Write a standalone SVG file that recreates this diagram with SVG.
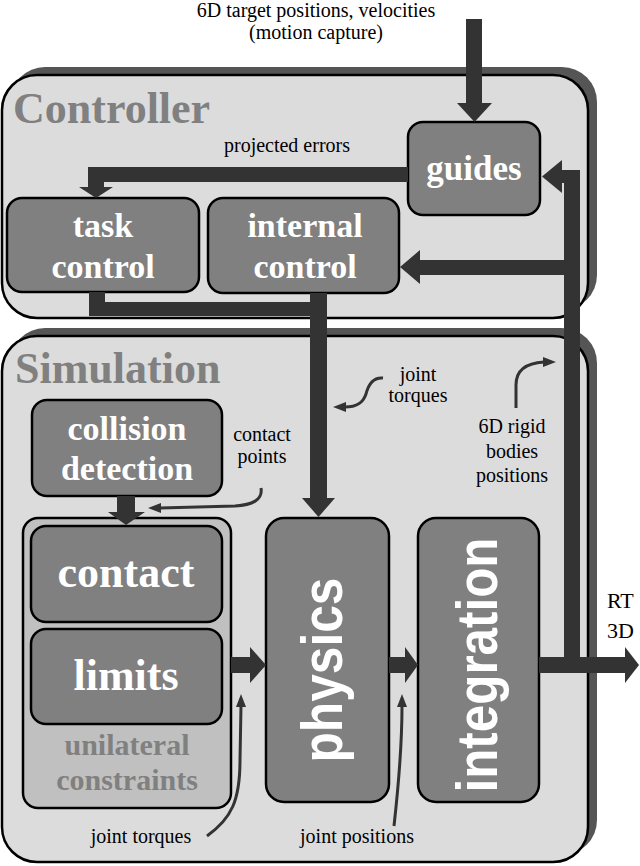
<svg xmlns="http://www.w3.org/2000/svg" width="640" height="866" viewBox="0 0 640 866">
<rect width="640" height="866" fill="#fff"/>

<g id="controller">
<rect fill="#555" x="10" y="67" width="587" height="243" rx="35"/>
<rect fill="#dcdcdc" stroke="#000" stroke-width="2.5" x="2" y="75" width="586" height="243" rx="35"/>
<text x="13" y="123" font-family="Liberation Serif" font-weight="bold" font-size="44" fill="#808080">Controller</text>
</g>

<g id="simulation">
<rect fill="#555" x="10" y="328" width="587" height="527" rx="35"/>
<rect fill="#dcdcdc" stroke="#000" stroke-width="2.5" x="2" y="336" width="586" height="526" rx="35"/>
<text x="15" y="383" font-family="Liberation Serif" font-weight="bold" font-size="44" fill="#808080">Simulation</text>
</g>

<g id="guides">
<rect fill="#808080" stroke="#000" stroke-width="2.5" x="408" y="122" width="132" height="93" rx="15"/>
<text x="474" y="180" font-family="Liberation Serif" font-weight="bold" font-size="35" fill="#fff" text-anchor="middle">guides</text>
</g>

<g id="task-control">
<rect fill="#808080" stroke="#000" stroke-width="2.5" x="7" y="198" width="192" height="94" rx="15"/>
<text x="103" y="237" font-family="Liberation Serif" font-weight="bold" font-size="34" fill="#fff" text-anchor="middle">task</text>
<text x="103" y="278" font-family="Liberation Serif" font-weight="bold" font-size="34" fill="#fff" text-anchor="middle">control</text>
</g>

<g id="internal-control">
<rect fill="#808080" stroke="#000" stroke-width="2.5" x="208" y="198" width="191" height="95" rx="15"/>
<text x="305" y="237" font-family="Liberation Serif" font-weight="bold" font-size="34" fill="#fff" text-anchor="middle">internal</text>
<text x="305" y="278" font-family="Liberation Serif" font-weight="bold" font-size="34" fill="#fff" text-anchor="middle">control</text>
</g>

<g id="collision-detection">
<rect fill="#808080" stroke="#000" stroke-width="2.5" x="32" y="400" width="190" height="96" rx="15"/>
<text x="127" y="440" font-family="Liberation Serif" font-weight="bold" font-size="34" fill="#fff" text-anchor="middle">collision</text>
<text x="127" y="480" font-family="Liberation Serif" font-weight="bold" font-size="34" fill="#fff" text-anchor="middle">detection</text>
</g>

<g id="unilateral-constraints">
<rect fill="#c0c0c0" stroke="#000" stroke-width="2.5" x="23" y="518" width="208" height="290" rx="15"/>
<text x="127" y="755" font-family="Liberation Serif" font-weight="bold" font-size="30" fill="#808080" text-anchor="middle">unilateral</text>
<text x="127" y="790" font-family="Liberation Serif" font-weight="bold" font-size="30" fill="#808080" text-anchor="middle">constraints</text>
</g>

<g id="contact">
<rect fill="#808080" stroke="#000" stroke-width="2.5" x="31" y="526" width="191" height="96" rx="15"/>
<text x="126" y="587" font-family="Liberation Serif" font-weight="bold" font-size="44" fill="#fff" text-anchor="middle">contact</text>
</g>

<g id="limits">
<rect fill="#808080" stroke="#000" stroke-width="2.5" x="31" y="629" width="191" height="95" rx="15"/>
<text x="126" y="690" font-family="Liberation Serif" font-weight="bold" font-size="44" fill="#fff" text-anchor="middle">limits</text>
</g>

<g id="physics">
<rect fill="#808080" stroke="#000" stroke-width="2.5" x="266" y="518" width="123" height="284" rx="18"/>
<text transform="translate(342,670) rotate(-90)" font-family="Liberation Sans" font-weight="bold" font-size="58" fill="#fff" text-anchor="middle" textLength="185" lengthAdjust="spacingAndGlyphs">physics</text>
</g>

<g id="integration">
<rect fill="#808080" stroke="#000" stroke-width="2.5" x="418" y="518" width="121" height="284" rx="18"/>
<text transform="translate(497,665) rotate(-90)" font-family="Liberation Sans" font-weight="bold" font-size="58" fill="#fff" text-anchor="middle" textLength="255" lengthAdjust="spacingAndGlyphs">integration</text>
</g>

<g id="connectors" fill="#333">
<rect x="466" y="19" width="16" height="85"/>
<polygon points="457,103 492,103 474.5,122"/>
<rect x="88" y="167" width="320" height="15"/>
<rect x="88" y="167" width="16" height="21"/>
<polygon points="79,187 113,187 96,198"/>
<rect x="89" y="292" width="16" height="24"/>
<rect x="89" y="302" width="238" height="14"/>
<rect x="310" y="293" width="17" height="206"/>
<polygon points="302,498 335,498 318.5,517"/>
<rect x="564" y="170" width="16" height="503"/>
<rect x="560" y="170" width="20" height="13"/>
<polygon points="562,160 562,193 542,176.5"/>
<rect x="418" y="260" width="162" height="15"/>
<polygon points="420,250 420,284 400,267"/>
<rect x="117" y="496" width="18" height="17"/>
<polygon points="108,512 145,512 126,525"/>
<rect x="231" y="657" width="20" height="16"/>
<polygon points="250,647 250,683 266,665"/>
<rect x="389" y="657" width="17" height="16"/>
<polygon points="405,647 405,683 418,665"/>
<rect x="539" y="657" width="87" height="16"/>
<polygon points="625,647 625,683 639,665"/>
<g fill="none" stroke="#333" stroke-width="3">
<path d="M383,378 C372,377 368,386 366,394 C363,403 357,407 345,407"/>
<path d="M516,408 L516,385 C516,370 526,363 544,362"/>
<path d="M261,488 C263,500 252,505 235,506 L160,508"/>
<path d="M207,836 C232,818 240,800 240,760 L241,706"/>
<path d="M394,826 C398,790 402,740 402,706"/>
</g>
<polygon points="346,402 346,412 333,407"/>
<polygon points="543,357 543,367 556,362"/>
<polygon points="161,503 161,513 148,508"/>
<polygon points="236,707 246,707 241,694"/>
<polygon points="397,707 407,707 402,694"/>
</g>

<g id="labels" font-family="Liberation Serif" font-size="20" text-anchor="middle" fill="#000">
<text x="316" y="17">6D target positions, velocities</text>
<text x="316" y="39">(motion capture)</text>
<text x="287" y="152">projected errors</text>
<text x="418" y="381">joint</text>
<text x="418" y="402">torques</text>
<text x="512" y="433">6D rigid</text>
<text x="512" y="458">bodies</text>
<text x="512" y="482">positions</text>
<text x="262" y="441">contact</text>
<text x="262" y="463">points</text>
<text x="141" y="843">joint torques</text>
<text x="357" y="843">joint positions</text>
<text x="607" y="608" font-size="22" text-anchor="start">RT</text>
<text x="607" y="638" font-size="22" text-anchor="start">3D</text>
</g>
</svg>
